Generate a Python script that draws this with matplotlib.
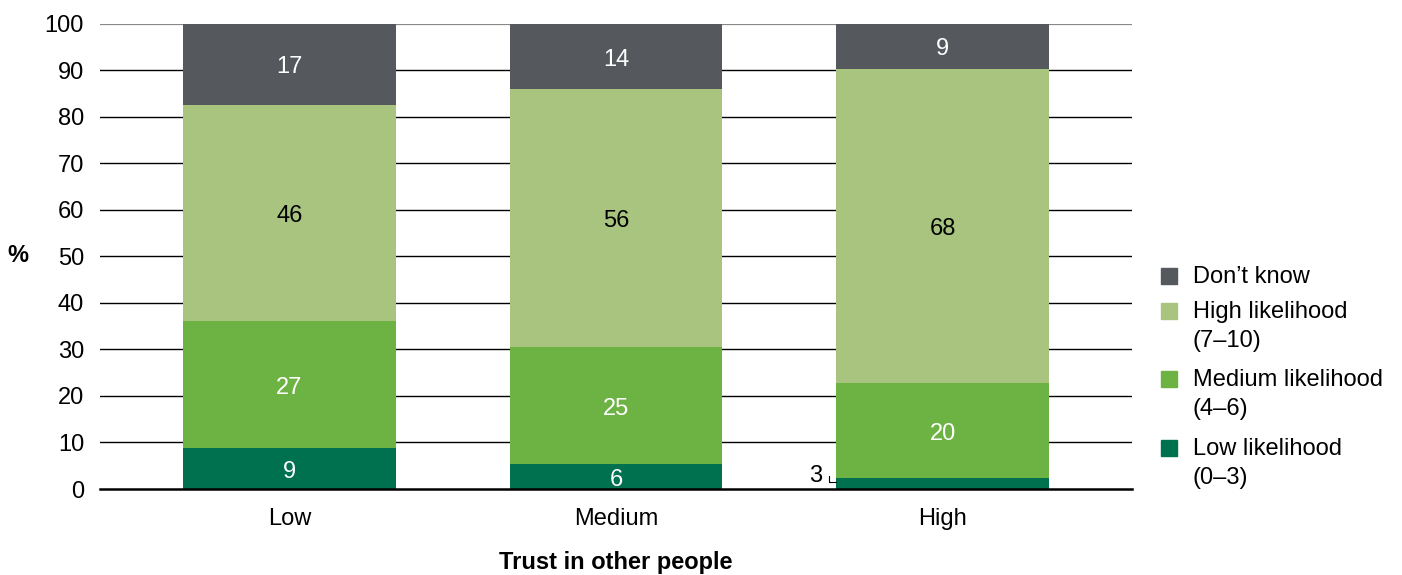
import numpy as np
import matplotlib.pyplot as plt
from matplotlib.patches import Rectangle

plt.rcParams['font.family'] = ['Liberation Sans', 'DejaVu Sans']

# Data (segment heights in %)
categories = ['Low', 'Medium', 'High']
low_lik = [8.8, 5.4, 2.4]
medium_lik = [27.3, 25.1, 20.4]
high_lik = [46.4, 55.4, 67.5]
dont_know = [17.5, 14.1, 9.7]

low_labels = ['9', '6', '3']
medium_labels = ['27', '25', '20']
high_labels = ['46', '56', '68']
dk_labels = ['17', '14', '9']

series = [
    ('Low likelihood\n(0\u20133)', low_lik, low_labels, '#00714f', 'white'),
    ('Medium likelihood\n(4\u20136)', medium_lik, medium_labels, '#6db344', 'white'),
    ('High likelihood\n(7\u201310)', high_lik, high_labels, '#a9c47f', 'black'),
    ('Don\u2019t know', dont_know, dk_labels, '#55585c', 'white'),
]

FS = 17

fig = plt.figure(figsize=(14.02, 5.75), dpi=100)
ax = fig.add_axes([100/1402, 86/575, 1032/1402, 465.5/575])

x = np.arange(len(categories))
width = 0.65
bottom = np.zeros(len(categories))
for name, vals, labels, color, tcolor in series:
    vals = np.array(vals)
    ax.bar(x, vals, width, bottom=bottom, color=color, zorder=3)
    for i in range(len(x)):
        if name.startswith('Low') and categories[i] == 'High':
            continue
        # labels sit a touch below the segment middle in the original
        ax.text(x[i], bottom[i] + vals[i] / 2 - 0.7, labels[i], ha='center', va='center',
                color=tcolor, fontsize=FS, zorder=4)
    bottom += vals

# small label for the thin segment on the High bar
ax.text(1.632, 3.4 - 0.7, low_labels[2], ha='right', va='center', fontsize=FS)
ax.plot([1.653, 1.653, 1.675], [2.9, 1.5, 1.5], color='black', lw=0.8, zorder=4)

ax.set_xlim(-0.58, 2.58)
ax.set_ylim(0, 100)
ax.set_yticks(range(0, 101, 10))
ax.set_xticks(x)
ax.set_xticklabels(categories)
ax.tick_params(axis='both', length=0, labelsize=FS)
ax.tick_params(axis='y', pad=11.5)
ax.tick_params(axis='x', pad=13.5)

for yv in range(10, 100, 10):
    ax.axhline(yv, color='black', lw=1, zorder=1)
ax.axhline(100, color='#888888', lw=1.6, zorder=1)

for s in ['left', 'right', 'top']:
    ax.spines[s].set_visible(False)
ax.spines['bottom'].set_linewidth(1.8)
ax.spines['bottom'].set_zorder(5)

fig.text(18/1402, 1 - 256/575, '%', fontsize=FS, fontweight='bold', ha='center', va='center')
fig.text(616/1402, 1 - 563/575, 'Trust in other people', fontsize=FS, fontweight='bold',
         ha='center', va='center')

# legend drawn by hand so the square lines up with the first text line
line_gap = 29
legend_rows = [(series[3], 276), (series[2], 311), (series[1], 379), (series[0], 448)]
for (name, _, _, color, _), ypix in legend_rows:
    fig.patches.append(Rectangle((1161/1402, 1 - (ypix + 8)/575), 16/1402, 16/575,
                                 transform=fig.transFigure, color=color, figure=fig))
    lines = name.split('\n')
    for k, line in enumerate(lines):
        fig.text(1193/1402, 1 - (ypix + 7 + k * line_gap)/575, line, fontsize=FS,
                 ha='left', va='baseline')

fig.savefig('out.png', dpi=100)
